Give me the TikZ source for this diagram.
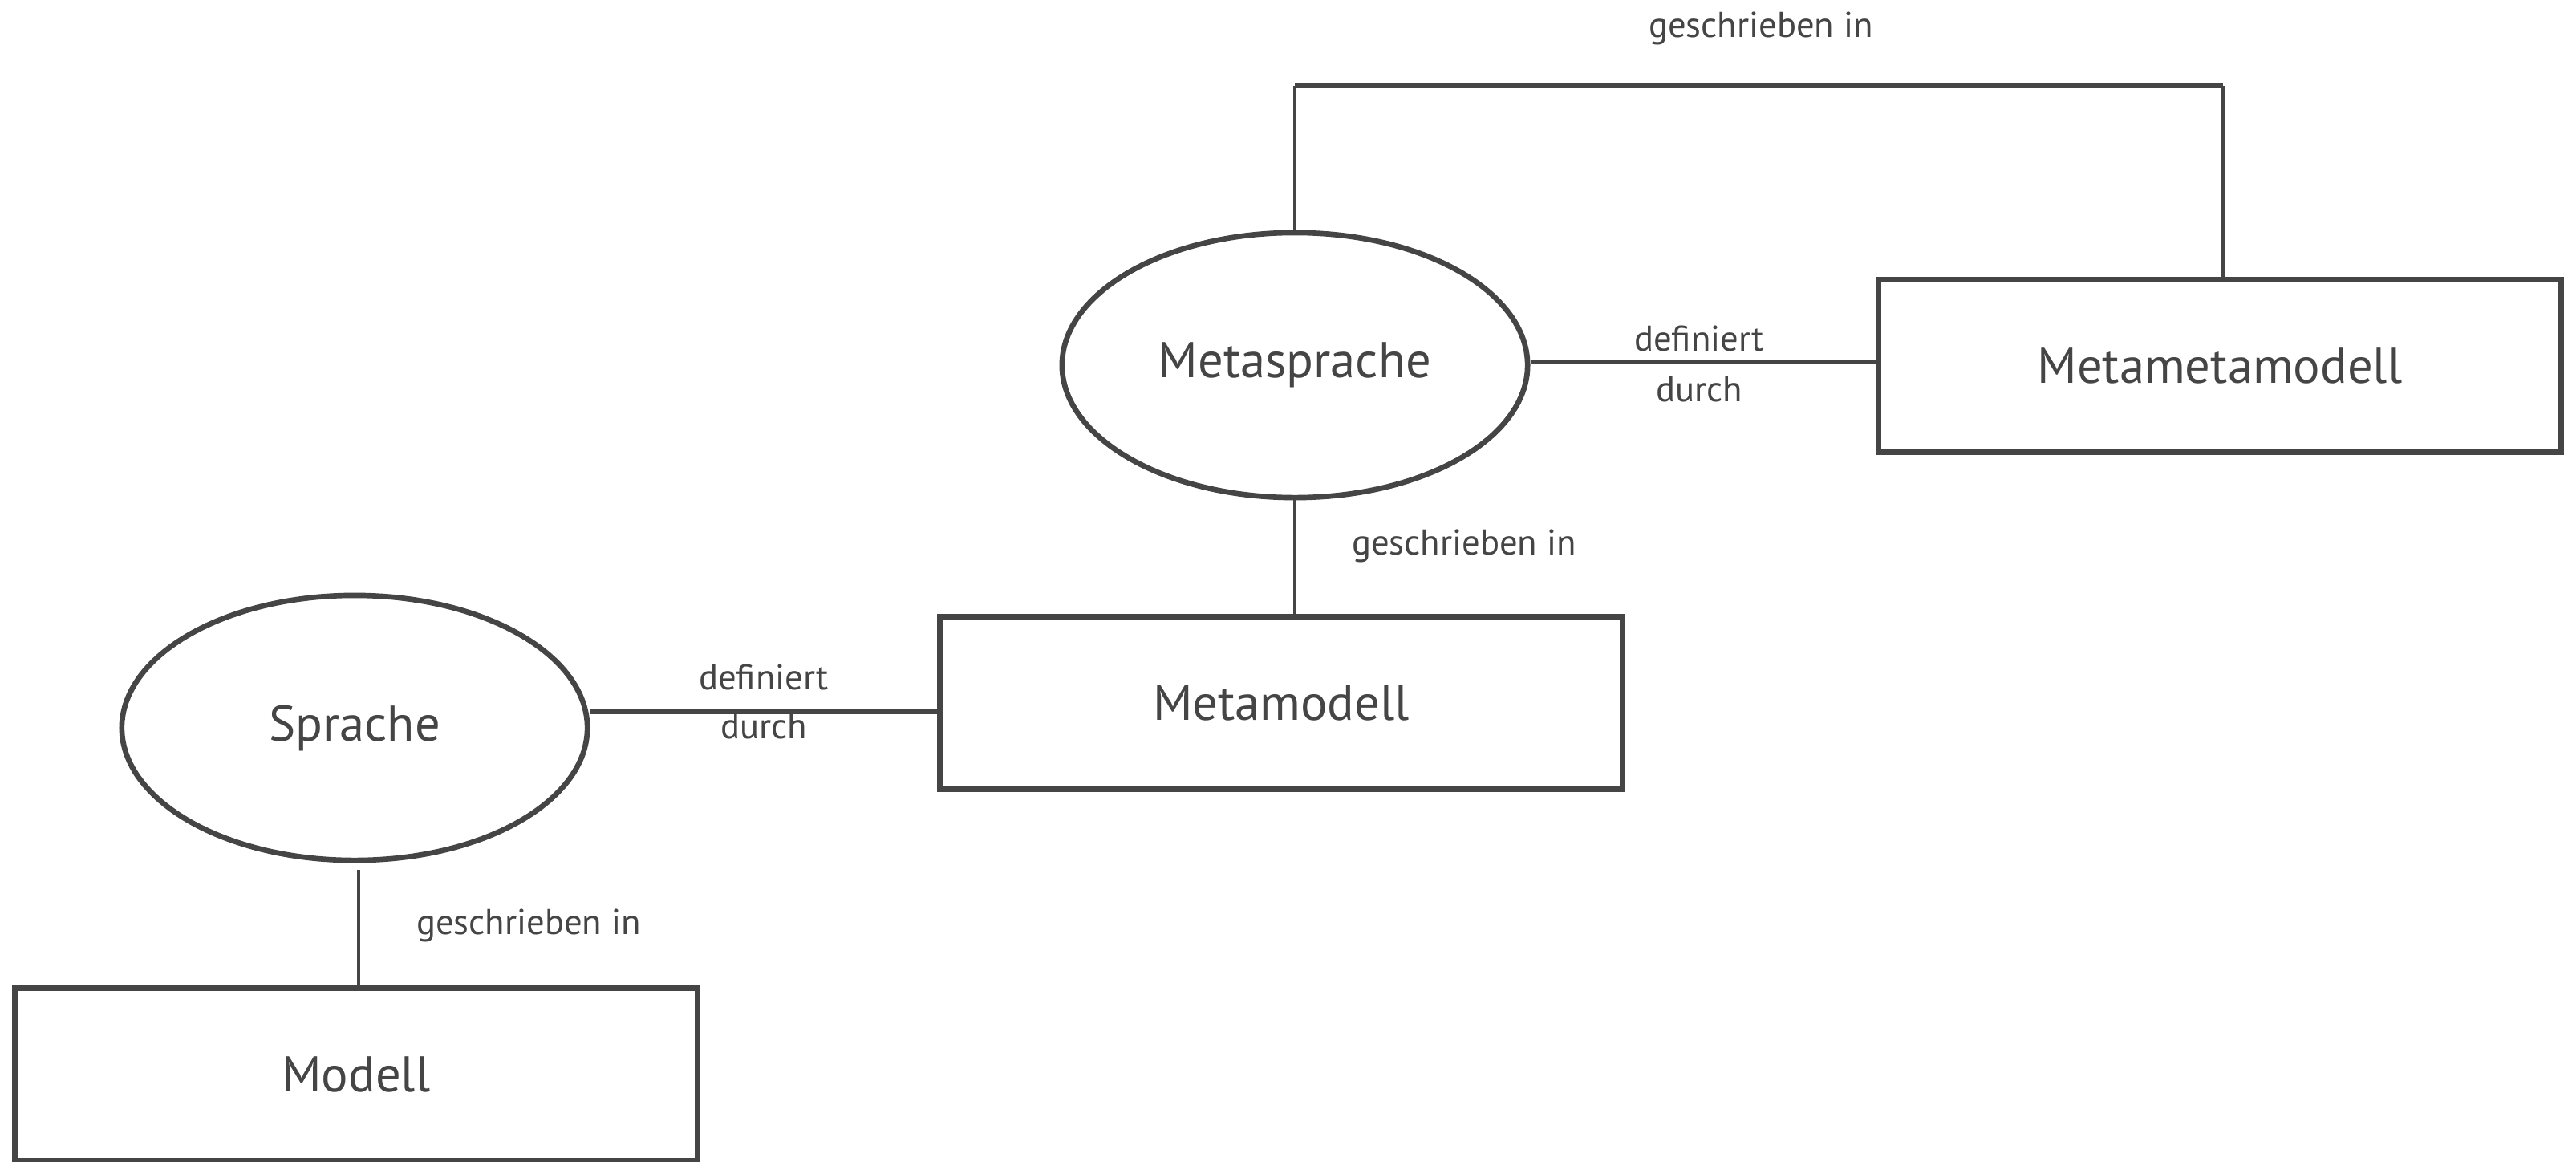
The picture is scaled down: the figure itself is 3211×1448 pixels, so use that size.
\documentclass[tikz,border=0pt]{standalone}
\usepackage{fontspec}
\setmainfont{PT Sans}
\usetikzlibrary{shapes.geometric}
\definecolor{ink}{HTML}{454545}
\begin{document}
\begin{tikzpicture}[x=0.01cm,y=-0.01cm,
  every node/.style={text=ink},
  lang/.style={ellipse,draw=ink,line width=1.9pt,minimum width=5.8cm,minimum height=3.3cm,inner sep=0pt,font=\fontsize{17.8}{20}\selectfont},
  modelbox/.style={rectangle,draw=ink,line width=1.9pt,minimum width=8.5cm,minimum height=2.15cm,inner sep=0pt,font=\fontsize{17.8}{20}\selectfont},
  thin link/.style={draw=ink,line width=1.3pt},
  thick link/.style={draw=ink,line width=1.9pt},
  lbl/.style={font=\fontsize{12.7}{15}\selectfont,inner sep=0pt}]
\useasboundingbox (0,0) rectangle (3211,1448);
\clip (0,0) rectangle (3211,1448);

% languages
\node[lang] (ms) at (1614,455) {Metasprache};
\node[lang] (s) at (442,907) {Sprache};

% models
\node[modelbox] (mmm) at (2767,456) {Metametamodell};
\node[modelbox] (mm) at (1597,876) {Metamodell};
\node[modelbox] (m) at (444,1339) {Modell};

% bracket over the top
\coordinate (tl) at (1614,107);
\coordinate (tr) at (2771,107);
\draw[thin link] (ms.north) -- (tl);
\draw[thick link] (tl) -- (tr);
\draw[thin link] (tr) -- (mmm.north -| tr);
\node[lbl] (l1) at (2195,35) {geschrieben in};

% Metasprache -- Metametamodell
\draw[thick link] (ms.east |- 0,451) -- (mmm.west |- 0,451);
\node[lbl] (l2) at (2118,422) {definiert};
\node[lbl] (l3) at (2118,485) {durch};

% Metasprache -- Metamodell
\draw[thin link] (ms.south) -- (mm.north -| ms.south);
\node[lbl] (l4) at (1825,680) {geschrieben in};

% Sprache -- Metamodell
\draw[thick link] (s.east |- 0,887) -- (mm.west |- 0,887);
\node[lbl] (l5) at (952,844) {definiert};
\node[lbl] (l6) at (952,905) {durch};

% Sprache -- Modell
\coordinate (sg) at (447,1084);
\draw[thin link] (sg) -- (m.north -| sg);
\node[lbl] (l7) at (659,1153) {geschrieben in};
\end{tikzpicture}
\end{document}
